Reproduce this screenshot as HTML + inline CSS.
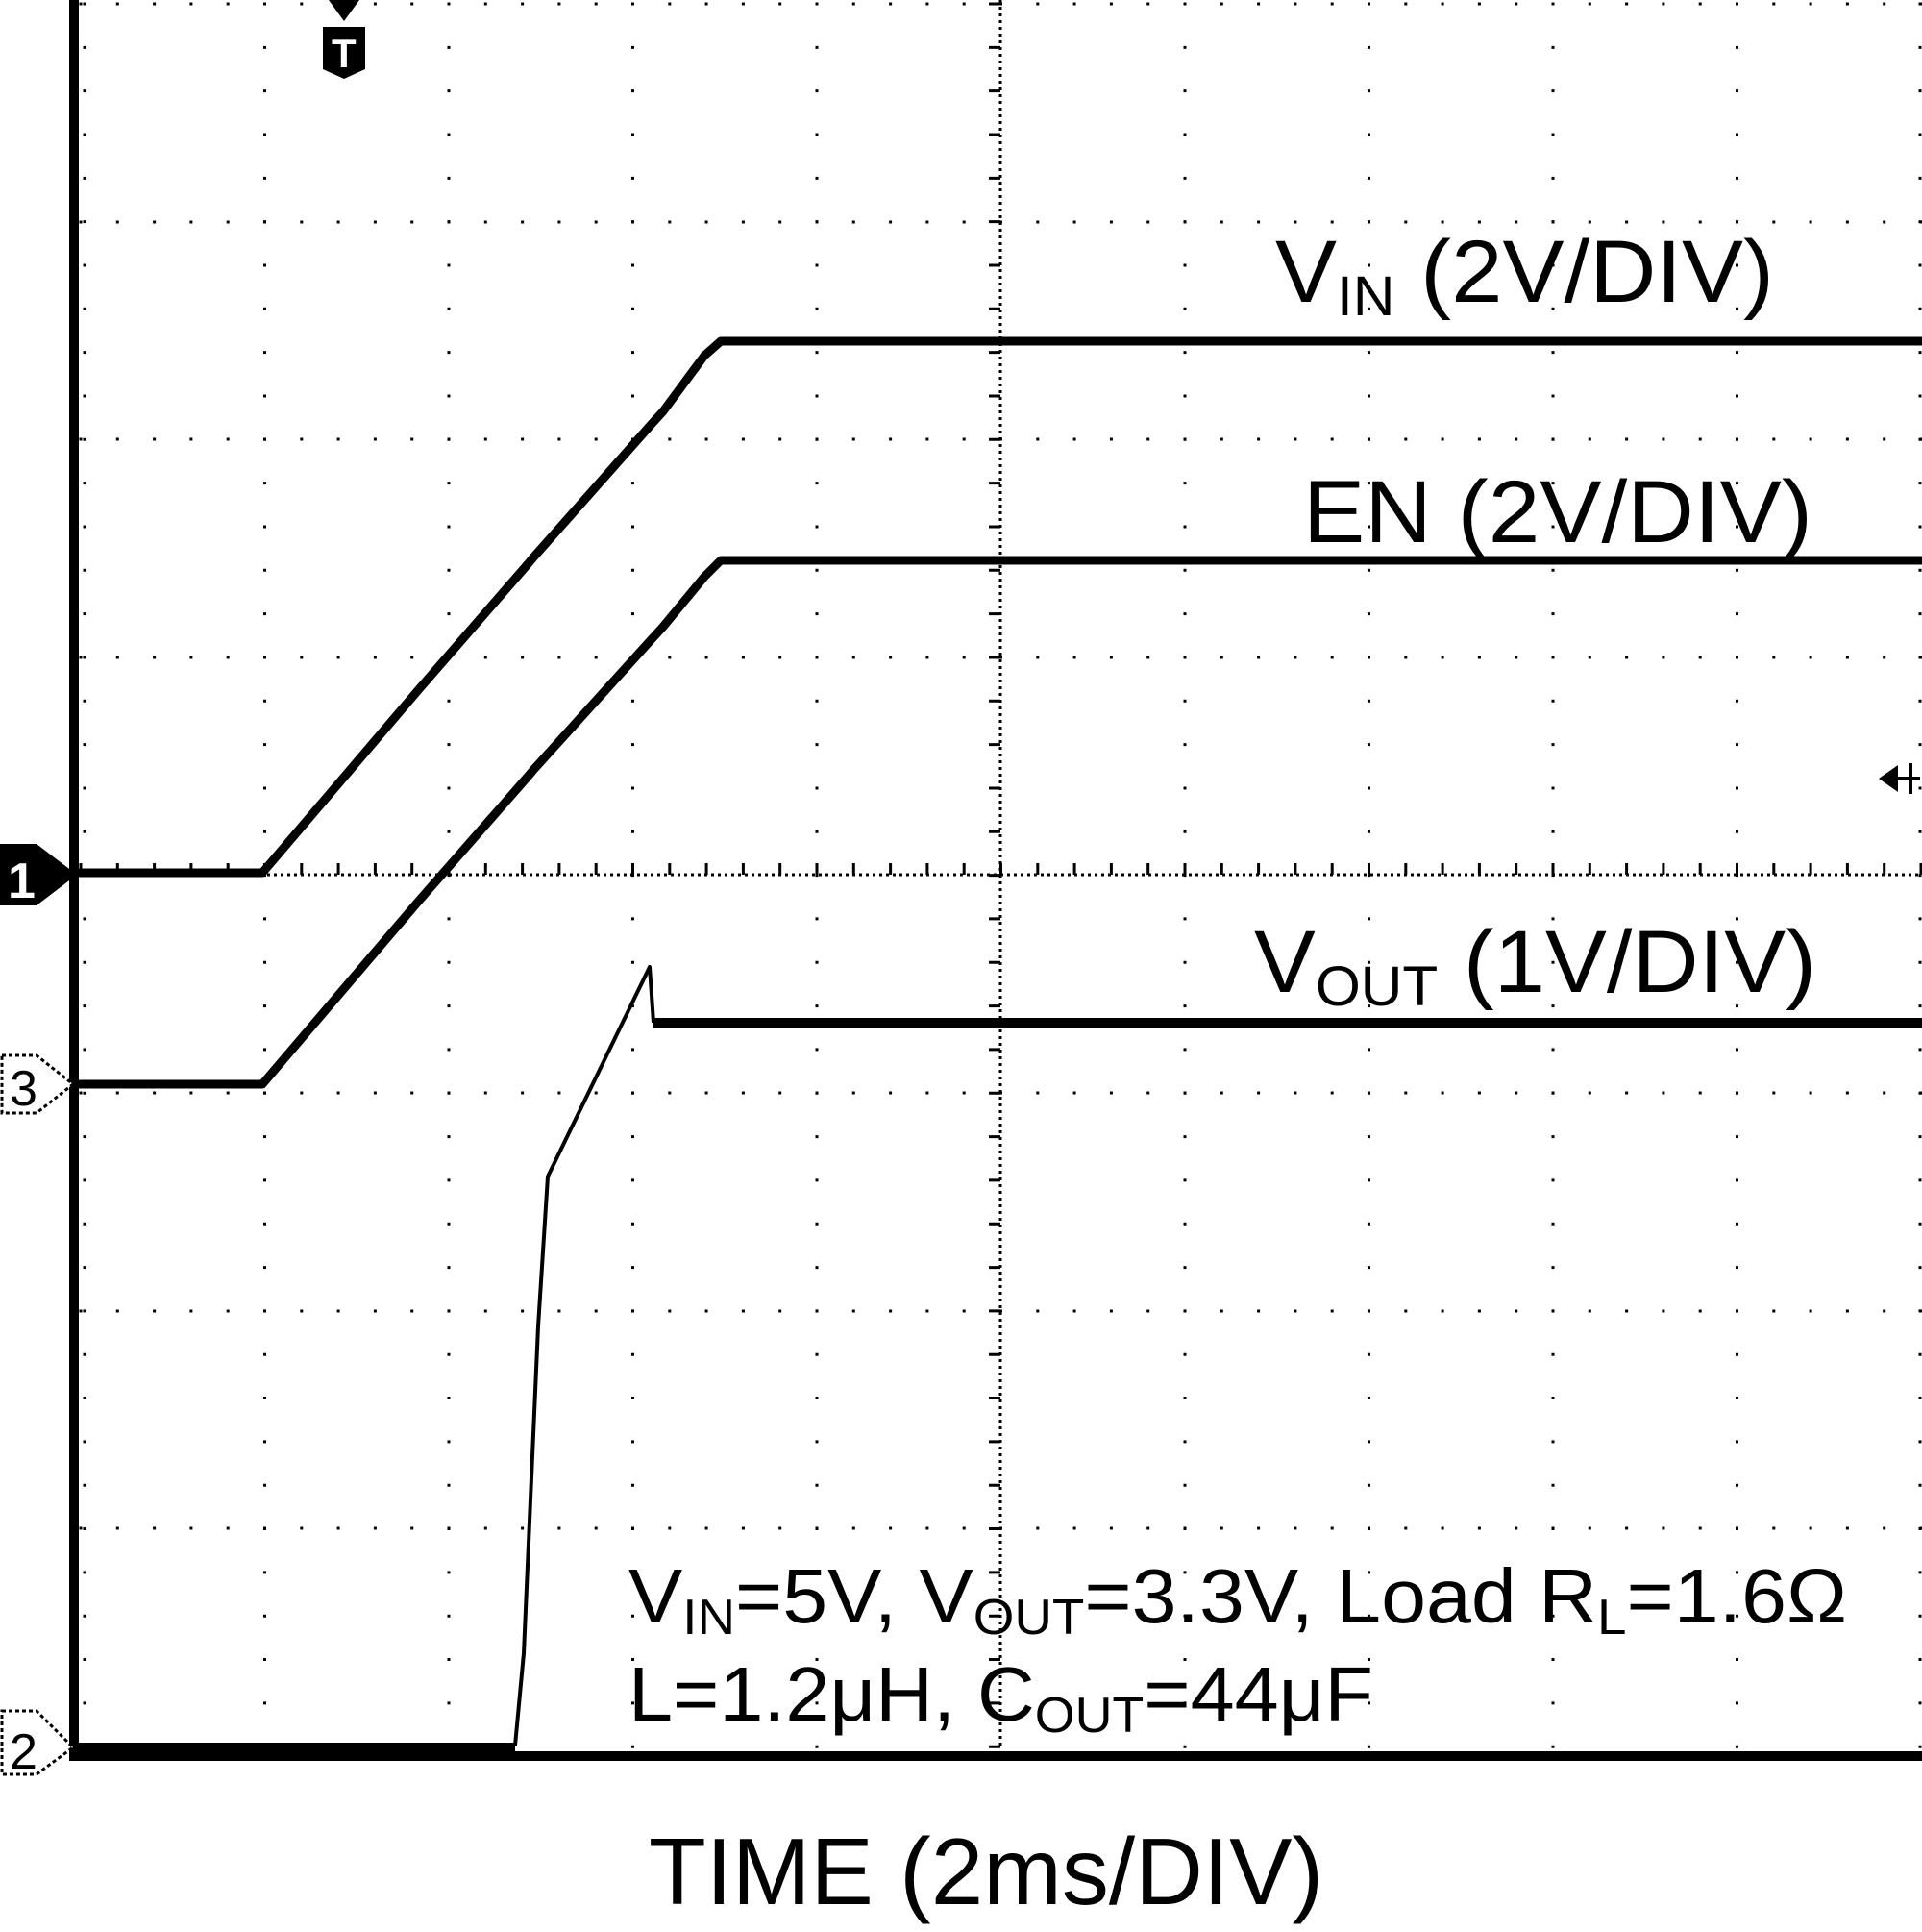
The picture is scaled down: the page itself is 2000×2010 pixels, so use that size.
<!DOCTYPE html>
<html><head><meta charset="utf-8"><style>
html,body{margin:0;padding:0;background:#fff;}
svg{display:block}
text{font-family:"Liberation Sans",Arial,sans-serif;fill:#000}
</style></head><body>
<svg width="2000" height="2010" viewBox="0 0 2000 2010" xmlns="http://www.w3.org/2000/svg">
<g stroke="#000" stroke-width="3" fill="none">
  <g stroke-dasharray="3 42.33">
    <line x1="275.5" y1="2.5" x2="275.5" y2="1820"/>
    <line x1="467" y1="2.5" x2="467" y2="1820"/>
    <line x1="658.5" y1="2.5" x2="658.5" y2="1820"/>
    <line x1="850" y1="2.5" x2="850" y2="1820"/>
    <line x1="1233" y1="2.5" x2="1233" y2="1820"/>
    <line x1="1424.5" y1="2.5" x2="1424.5" y2="1820"/>
    <line x1="1616" y1="2.5" x2="1616" y2="1820"/>
    <line x1="1807.5" y1="2.5" x2="1807.5" y2="1820"/>
    <line x1="1998" y1="2.5" x2="1998" y2="1820"/>
    <line x1="88" y1="2.5" x2="88" y2="1820"/>
  </g>
  <g stroke-dasharray="3 35.3">
    <line x1="82.5" y1="4" x2="2000" y2="4"/>
    <line x1="82.5" y1="231" x2="2000" y2="231"/>
    <line x1="82.5" y1="457" x2="2000" y2="457"/>
    <line x1="82.5" y1="684" x2="2000" y2="684"/>
    <line x1="82.5" y1="1137" x2="2000" y2="1137"/>
    <line x1="82.5" y1="1364" x2="2000" y2="1364"/>
    <line x1="82.5" y1="1590" x2="2000" y2="1590"/>
  </g>
  <line x1="82" y1="910" x2="2000" y2="910" stroke-dasharray="3 4"/>
  <line x1="1041" y1="0" x2="1041" y2="1820" stroke-dasharray="3 4"/>
  <line x1="82.5" y1="904" x2="2000" y2="904" stroke-width="12" stroke-dasharray="3 35.3"/>
  <line x1="1035" y1="2.5" x2="1035" y2="1820" stroke-width="12" stroke-dasharray="3 42.33"/>
</g>
<rect x="72" y="0" width="10" height="1832" fill="#000"/>
<rect x="72" y="1822" width="1928" height="10" fill="#000"/>

<g fill="none" stroke="#000" stroke-linejoin="round">
  <polyline stroke-width="9" points="80,908 273,908 436,717 550,586 555,580 679,440 690,428 733,370 750,355 2000,355"/>
  <polyline stroke-width="9" points="80,1128 273,1128 436,937 550,807 555,801 679,664 690,652 733,600 750,583 2000,583"/>
  <polyline stroke-width="10" points="80,1818 536,1818"/>
  <polyline stroke-width="4" points="536,1816 545,1720 552,1560 560,1380 570,1224 640,1080 676,1006 680,1064"/>
  <polyline stroke-width="10" points="680,1064 2000,1064"/>
</g>

<path d="M0,878 H38 L80,910 L38,942 H0 Z" fill="#000"/>
<text x="8" y="934" font-size="52" font-weight="bold" style="fill:#fff">1</text>
<path d="M2,1098 H38 L76,1128 L38,1158 H2 Z" fill="#fff" stroke="#000" stroke-width="3" stroke-dasharray="4 3"/>
<text x="10" y="1150" font-size="52">3</text>
<path d="M2,1780 H38 L76,1818 L38,1846 H2 Z" fill="#fff" stroke="#000" stroke-width="3" stroke-dasharray="4 3"/>
<text x="10" y="1840" font-size="52">2</text>
<path d="M342,0 H374 L358,22 Z" fill="#000"/>
<path d="M336,28 H380 V72 L358,82 L336,72 Z" fill="#000"/>
<text x="345" y="70" font-size="42" font-weight="bold" style="fill:#fff">T</text>
<path d="M1955,810 L1975,796 V824 Z" fill="#000"/>
<rect x="1970" y="808" width="28" height="4" fill="#000"/>
<rect x="1986" y="794" width="4" height="32" fill="#000"/>

<text x="1327" y="314" font-size="92" textLength="519" lengthAdjust="spacingAndGlyphs">V<tspan font-size="58" dy="14">IN</tspan><tspan dy="-14"> (2V/DIV)</tspan></text>
<text x="1356" y="564" font-size="92" textLength="530" lengthAdjust="spacingAndGlyphs">EN (2V/DIV)</text>
<text x="1305" y="1032" font-size="92" textLength="585" lengthAdjust="spacingAndGlyphs">V<tspan font-size="58" dy="14">OUT</tspan><tspan dy="-14"> (1V/DIV)</tspan></text>
<text x="654" y="1688" font-size="80" textLength="1268" lengthAdjust="spacingAndGlyphs">V<tspan font-size="52" dy="12">IN</tspan><tspan dy="-12">=5V, V</tspan><tspan font-size="52" dy="12">OUT</tspan><tspan dy="-12">=3.3V, Load R</tspan><tspan font-size="52" dy="12">L</tspan><tspan dy="-12">=1.6Ω</tspan></text>
<text x="654" y="1790" font-size="80" textLength="775" lengthAdjust="spacingAndGlyphs">L=1.2μH, C<tspan font-size="52" dy="12">OUT</tspan><tspan dy="-12">=44μF</tspan></text>
<text x="1026" y="1981" font-size="98" text-anchor="middle">TIME (2ms/DIV)</text>
</svg>
</body></html>
